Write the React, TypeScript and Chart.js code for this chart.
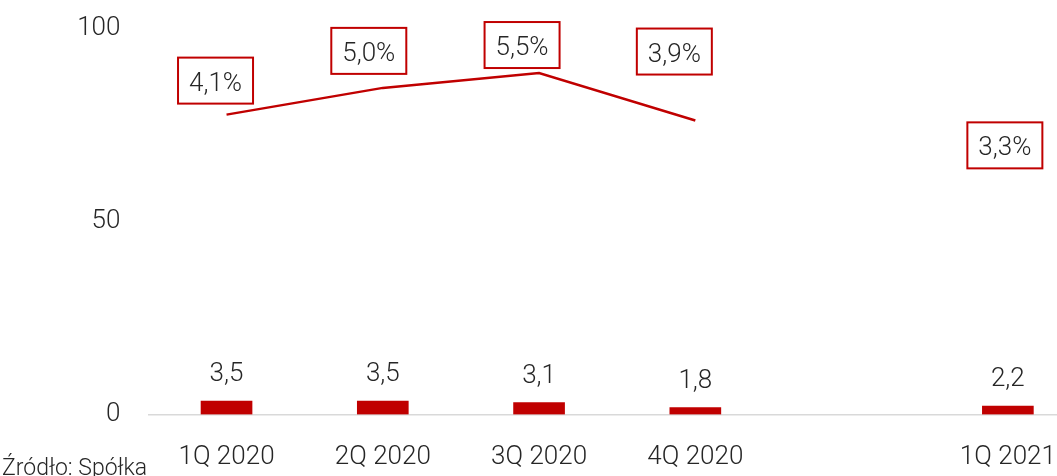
import React, { useEffect, useRef } from 'react';
import { Chart, registerables } from 'chart.js';

Chart.register(...registerables);

// ---- data ----
const categories = ['1Q 2020', '2Q 2020', '3Q 2020', '4Q 2020', '', '1Q 2021'];
const barValues = [3.5, 3.5, 3.1, 1.8, null, 2.2];
const marginValues = [4.1, 5.0, 5.5, 3.9, null, 3.3];
const yTickValues = [0, 50, 100];
const sourceNote = 'Źródło: Spółka';

// ---- styles / layout ----
const RED = '#c00000';
const TEXT = '#262626';
const FONT_FAMILY = 'Roboto, "Open Sans", sans-serif';
const FONT_SIZE = 26;
const FONT_WEIGHT = '300';
const BOX_W = 75;
const BOX_H = 46;
// placement of each % label box relative to its line point (px)
const boxOffsets: ([number, number] | null)[] = [
  [-11, -34],
  [-14, -37],
  [-17, -28],
  [-21, -69],
  null,
  [-3, 7],
];

const fmt = (v: number) => v.toFixed(1).replace('.', ',');

const labelsPlugin = {
  id: 'customLabels',
  afterDatasetsDraw(chart: any) {
    const ctx: CanvasRenderingContext2D = chart.ctx;
    ctx.save();
    ctx.font = `${FONT_WEIGHT} ${FONT_SIZE}px ${FONT_FAMILY}`;
    ctx.textAlign = 'center';

    const barMeta = chart.getDatasetMeta(0);
    barMeta.data.forEach((el: any, i: number) => {
      const v = barValues[i];
      if (v == null) return;
      ctx.fillStyle = TEXT;
      ctx.textBaseline = 'alphabetic';
      ctx.fillText(fmt(v), el.x, el.y - 20);
    });

    const lineMeta = chart.getDatasetMeta(1);
    lineMeta.data.forEach((el: any, i: number) => {
      const v = marginValues[i];
      const off = boxOffsets[i];
      if (v == null || !off) return;
      const cx = el.x + off[0];
      const cy = el.y + off[1];
      ctx.fillStyle = '#ffffff';
      ctx.fillRect(cx - BOX_W / 2, cy - BOX_H / 2, BOX_W, BOX_H);
      ctx.strokeStyle = RED;
      ctx.lineWidth = 2;
      ctx.strokeRect(cx - BOX_W / 2, cy - BOX_H / 2, BOX_W, BOX_H);
      ctx.fillStyle = TEXT;
      ctx.textBaseline = 'middle';
      ctx.fillText(fmt(v) + '%', cx, cy + 3.5);
    });

    ctx.font = `${FONT_WEIGHT} 23px ${FONT_FAMILY}`;
    ctx.textAlign = 'left';
    ctx.textBaseline = 'alphabetic';
    ctx.fillStyle = TEXT;
    ctx.fillText(sourceNote, 2, 475);
    ctx.restore();
  },
};

export default function App() {
  const canvasRef = useRef<HTMLCanvasElement | null>(null);

  useEffect(() => {
    if (!canvasRef.current) return;
    const font = { family: FONT_FAMILY, size: FONT_SIZE, weight: FONT_WEIGHT as any };
    const chart = new Chart(canvasRef.current, {
      type: 'bar',
      data: {
        labels: categories,
        datasets: [
          {
            type: 'bar',
            data: barValues as any,
            backgroundColor: RED,
            borderWidth: 0,
            barThickness: 51,
            yAxisID: 'y',
            order: 2,
          },
          {
            type: 'line',
            data: marginValues as any,
            borderColor: RED,
            borderWidth: 2.5,
            pointRadius: 0,
            pointHoverRadius: 0,
            spanGaps: false,
            tension: 0,
            fill: false,
            yAxisID: 'y1',
            order: 1,
          },
        ],
      },
      options: {
        animation: false,
        responsive: false,
        devicePixelRatio: 1,
        layout: { padding: { top: 28.5, left: 0, right: 0, bottom: 0 } },
        plugins: {
          legend: { display: false },
          tooltip: { enabled: false },
        },
        scales: {
          x: {
            type: 'category',
            offset: true,
            grid: { display: false, drawTicks: false },
            border: { display: true, color: '#d9d9d9', width: 1.5 },
            ticks: { font, color: TEXT, padding: 27.5, maxRotation: 0, autoSkip: false },
            afterFit: (s: any) => {
              s.height = 61.5;
              s.paddingLeft = 0;
              s.paddingRight = 0;
            },
          },
          y: {
            position: 'left',
            min: 0,
            max: 100,
            grid: { display: false, drawTicks: false },
            border: { display: false },
            ticks: {
              font,
              color: TEXT,
              padding: 28,
              stepSize: 50,
              callback: (v: any) => (yTickValues.includes(Number(v)) ? String(v) : ''),
            },
            afterFit: (s: any) => {
              s.width = 148.4;
              s.paddingTop = 0;
              s.paddingBottom = 0;
            },
          },
          y1: {
            position: 'right',
            min: -6,
            max: 7,
            display: false,
          },
        },
      },
      plugins: [labelsPlugin],
    });
    return () => chart.destroy();
  }, []);

  return (
    <div style={{ position: 'fixed', left: 0, top: 0, width: 1057, height: 476, overflow: 'hidden', background: '#fff' }}>
      <canvas ref={canvasRef} width={1086} height={476} style={{ display: 'block' }} />
    </div>
  );
}
